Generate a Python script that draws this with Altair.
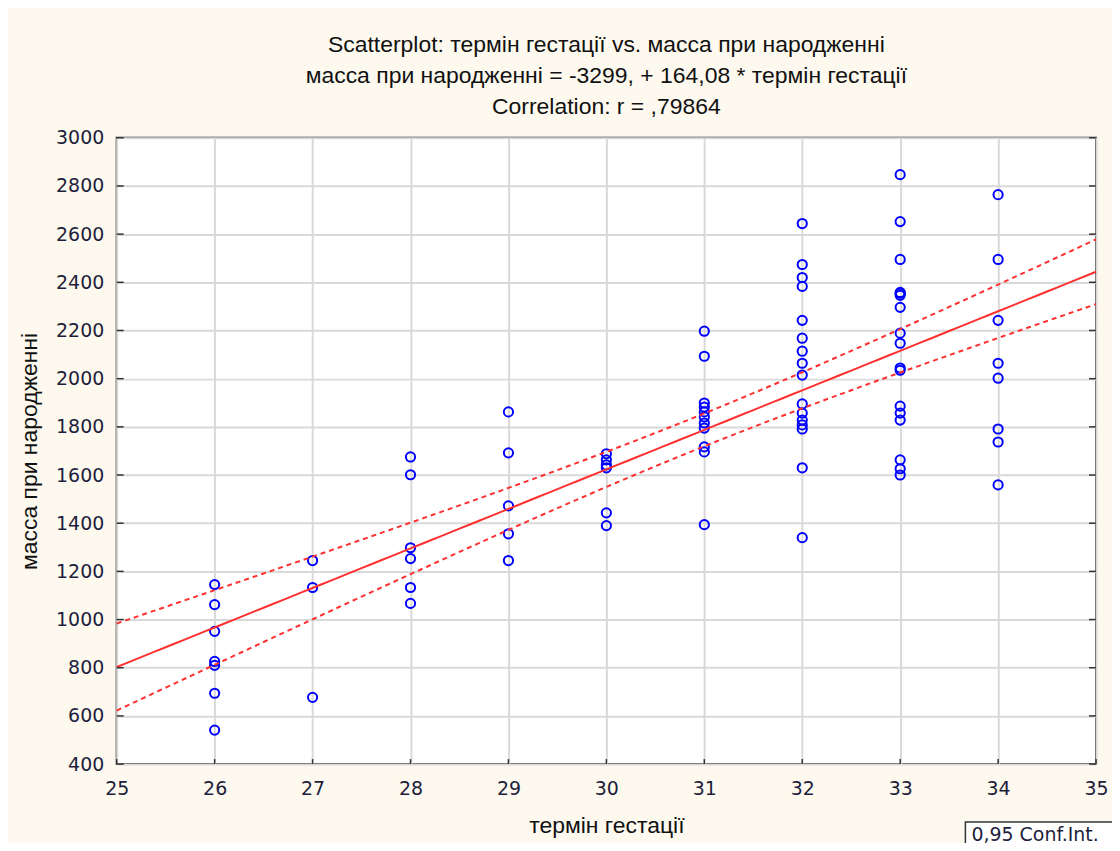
import altair as alt
import numpy as np
import pandas as pd

# ---- data ----
mass_26 = [1145, 1062, 951, 826, 810, 694, 541]
mass_27 = [1245, 1133, 677]
mass_28 = [1675, 1601, 1298, 1253, 1133, 1067]
mass_29 = [1862, 1692, 1472, 1356, 1245]
mass_30 = [1688, 1663, 1642, 1630, 1443, 1390]
mass_31 = [2197, 2093, 1899, 1882, 1862, 1841, 1816, 1795, 1717, 1696, 1394]
mass_32 = [2644, 2474, 2420, 2383, 2242, 2168, 2114, 2064, 2015, 1895, 1857,
           1828, 1808, 1791, 1630, 1340]
mass_33 = [2847, 2652, 2495, 2358, 2354, 2346, 2296, 2189, 2147, 2044, 2035,
           1886, 1857, 1828, 1663, 1626, 1600]
mass_34 = [2764, 2495, 2242, 2064, 2002, 1791, 1737, 1559]

weeks = [26, 27, 28, 29, 30, 31, 32, 33, 34]
groups = [mass_26, mass_27, mass_28, mass_29, mass_30, mass_31, mass_32,
          mass_33, mass_34]

intercept = -3299.0
slope = 164.08

x_ticks = [25, 26, 27, 28, 29, 30, 31, 32, 33, 34, 35]
y_ticks = [400, 600, 800, 1000, 1200, 1400, 1600, 1800, 2000, 2200, 2400,
           2600, 2800, 3000]

title_lines = ["Scatterplot: термін гестації vs. масса при народженні",
               "масса при народженні = -3299, + 164,08 * термін гестації",
               "Correlation: r = ,79864"]
x_title = "термін гестації"
y_title = "масса при народженні"
legend_text = "0,95 Conf.Int."

# ---- tables ----
xs, ys = [], []
for w, g in zip(weeks, groups):
    xs += [w] * len(g)
    ys += g
pts = pd.DataFrame({"x": xs, "y": ys})

xa = np.array(xs, dtype=float)
ya = np.array(ys, dtype=float)
n = len(xa)
xbar = xa.mean()
sxx = ((xa - xbar) ** 2).sum()
resid = ya - (intercept + slope * xa)
s = np.sqrt((resid ** 2).sum() / (n - 2))
tval = 1.99
grid = np.linspace(x_ticks[0], x_ticks[-1], 101)
fit = intercept + slope * grid
half = tval * s * np.sqrt(1.0 / n + (grid - xbar) ** 2 / sxx)
fit_df = pd.DataFrame({"x": grid, "fit": fit, "lo": fit - half, "hi": fit + half})

W, H = 982, 628
label_color = "#1e1e3c"
font = "Liberation Sans"
tfont = "DejaVu Sans"

xscale = alt.Scale(domain=[25, 35], nice=False, zero=False)
yscale = alt.Scale(domain=[400, 3000], nice=False, zero=False)

base_x = alt.X("x:Q", scale=xscale,
               axis=alt.Axis(values=x_ticks, title=x_title, grid=True,
                             format="d", labelFlush=False,
                             gridColor="#d9d9d9", gridWidth=2,
                             tickSize=0, labelPadding=16, titlePadding=16,
                             labelFontSize=19, titleFontSize=23,
                             labelColor=label_color, titleColor="#111111",
                             labelFont=tfont, titleFont=font,
                             titleFontWeight="normal", domain=False))
pts_layer = alt.Chart(pts).mark_point(
    shape="circle", filled=False, color="#0000ff", size=85, strokeWidth=2,
    opacity=1
).encode(
    x=base_x,
    y=alt.Y("y:Q", scale=yscale,
            axis=alt.Axis(values=y_ticks, title=y_title, grid=True,
                          format="d", labelFlush=False,
                          gridColor="#d9d9d9", gridWidth=2,
                          tickSize=0, labelPadding=13, titlePadding=14,
                          labelFontSize=19, titleFontSize=23,
                          labelColor=label_color, titleColor="#111111",
                          labelFont=tfont, titleFont=font,
                          titleFontWeight="normal", domain=False))
)

line_layer = alt.Chart(fit_df).mark_line(color="#ff3030", strokeWidth=2).encode(
    x=alt.X("x:Q", scale=xscale), y=alt.Y("fit:Q", scale=yscale))
lo_layer = alt.Chart(fit_df).mark_line(color="#ff3030", strokeWidth=2,
                                       strokeDash=[5, 4]).encode(
    x=alt.X("x:Q", scale=xscale), y=alt.Y("lo:Q", scale=yscale))
hi_layer = alt.Chart(fit_df).mark_line(color="#ff3030", strokeWidth=2,
                                       strokeDash=[5, 4]).encode(
    x=alt.X("x:Q", scale=xscale), y=alt.Y("hi:Q", scale=yscale))

# inward tick marks on the frame
ytick_df = pd.DataFrame({"v": y_ticks})
xtick_df = pd.DataFrame({"v": x_ticks})
ytl = alt.Chart(ytick_df).mark_rule(color="#333333", strokeWidth=1.5).encode(
    y=alt.Y("v:Q", scale=yscale), x=alt.value(0), x2=alt.value(7))
ytr = alt.Chart(ytick_df).mark_rule(color="#333333", strokeWidth=1.5).encode(
    y=alt.Y("v:Q", scale=yscale), x=alt.value(W - 7), x2=alt.value(W))
xtb = alt.Chart(xtick_df).mark_rule(color="#333333", strokeWidth=1.5).encode(
    x=alt.X("v:Q", scale=xscale), y=alt.value(H - 5), y2=alt.value(H))

# legend box (bottom right, outside the plot)
leg_df = pd.DataFrame({"t": [legend_text]})
leg_box = alt.Chart(leg_df).mark_rect(
    fill="white", stroke="#333333", strokeWidth=1.5, clip=False
).encode(x=alt.value(851), x2=alt.value(1030), y=alt.value(686),
         y2=alt.value(730))
leg_txt = alt.Chart(leg_df).mark_text(
    align="left", baseline="middle", fontSize=19, font=tfont, color="#1e1e3c",
    clip=False
).encode(x=alt.value(857), y=alt.value(699), text="t:N")

chart = alt.layer(
    pts_layer, lo_layer, hi_layer, line_layer, ytl, ytr, xtb, leg_box, leg_txt
).properties(
    width=W, height=H,
    title=alt.TitleParams(text=title_lines, fontSize=23, font=font,
                          fontWeight="normal", color="#111111",
                          anchor="middle", lineHeight=31, offset=10),
    autosize=alt.AutoSizeParams(type="none"),
    padding={"left": 109, "top": 129, "right": 16, "bottom": 78},
    background="#fdf9ee",
).configure_view(
    fill="white", stroke="#222222", strokeWidth=2
)

chart.save("out.html", embed_options={"renderer": "svg", "actions": False})
